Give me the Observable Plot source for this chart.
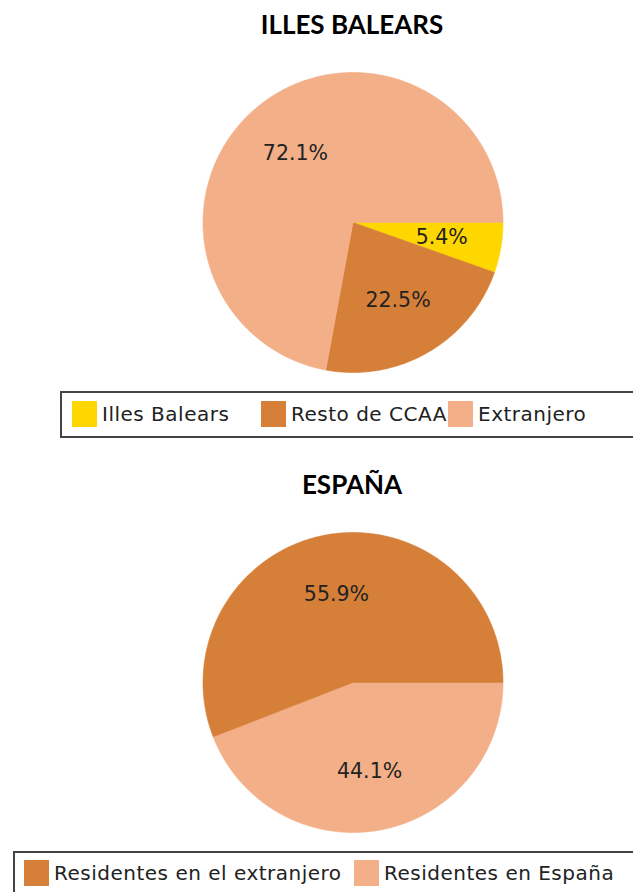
<!DOCTYPE html>
<html>
<head>
<meta charset="utf-8">
<script src="https://cdn.jsdelivr.net/npm/d3@7"></script>
<script src="https://cdn.jsdelivr.net/npm/@observablehq/plot@0.6"></script>
<style>
  html, body { margin: 0; padding: 0; background: #fff; }
  #root { position: relative; width: 633px; height: 892px; overflow: hidden; }
  .title { position: absolute; left: 0; width: 704px; text-align: center;
           font-family: Lato, "Open Sans", sans-serif; font-weight: bold; font-size: 26px; color: #000; }
  .pie { position: absolute; left: 0; }
  .legend { position: absolute; border: 2px solid #444; background: #fff; box-sizing: border-box; }
  .item { position: absolute; display: flex; align-items: center; white-space: nowrap;
          font-family: "DejaVu Sans", sans-serif; font-size: 20px; letter-spacing: 0.5px; color: #222; }
  .sw { width: 25px; height: 26px; margin-right: 5px; flex: none; }
</style>
</head>
<body>
<div id="root"></div>
<script>
// ---- Data ----
const titles = ["ILLES BALEARS", "ESPAÑA"];

const balearsCategories = ["Illes Balears", "Resto de CCAA", "Extranjero"];
const balearsValues = [5.4, 22.5, 72.1];
const balearsColors = ["#FFD700", "#D67F39", "#F3AF88"];
const balearsLabels = ["5.4%", "22.5%", "72.1%"];
const balearsClockwiseOrder = ["Illes Balears", "Resto de CCAA", "Extranjero"];

const espanaCategories = ["Residentes en el extranjero", "Residentes en España"];
const espanaValues = [55.9, 44.1];
const espanaColors = ["#D67F39", "#F3AF88"];
const espanaLabels = ["55.9%", "44.1%"];
const espanaClockwiseOrder = ["Residentes en España", "Residentes en el extranjero"];

// ---- Helpers ----
function pieGeometry(categories, values, labels, order) {
  const total = d3.sum(values);
  const polys = [], texts = [];
  let acc = 0;
  for (const name of order) {
    const i = categories.indexOf(name);
    const frac = values[i] / total;
    const a0 = -2 * Math.PI * acc;
    const a1 = -2 * Math.PI * (acc + frac);
    const n = Math.max(4, Math.ceil(Math.abs(a1 - a0) / 0.01));
    polys.push({name, x: 0, y: 0});
    for (let k = 0; k <= n; k++) {
      const a = a0 + (a1 - a0) * k / n;
      polys.push({name, x: Math.cos(a), y: Math.sin(a)});
    }
    polys.push({name, x: 0, y: 0});
    const am = (a0 + a1) / 2;
    texts.push({name, label: labels[i], x: 0.6 * Math.cos(am), y: 0.6 * Math.sin(am)});
    acc += frac;
  }
  return {polys, texts};
}

function drawPie(categories, values, colors, labels, order) {
  const g = pieGeometry(categories, values, labels, order);
  return Plot.plot({
    width: 633,
    height: 310,
    margin: 0,
    style: {background: "transparent"},
    x: {domain: [-1, 1], range: [202.5, 502.5], axis: null},
    y: {domain: [-1, 1], range: [305, 5], axis: null},
    color: {domain: categories, range: colors},
    marks: [
      Plot.line(g.polys, {x: "x", y: "y", z: "name", fill: "name", stroke: "name", strokeWidth: 0.6, curve: "linear"}),
      Plot.text(g.texts, {x: "x", y: "y", text: "label", fill: "#222", fontSize: 20.5,
        fontFamily: "DejaVu Sans, sans-serif", textAnchor: "middle"})
    ]
  });
}

function addTitle(root, text, top) {
  const d = document.createElement("div");
  d.className = "title";
  d.style.top = top + "px";
  d.textContent = text;
  root.appendChild(d);
}

function addLegend(root, categories, colors, box, itemX) {
  const lg = document.createElement("div");
  lg.className = "legend";
  Object.assign(lg.style, {left: box.left + "px", top: box.top + "px", width: box.width + "px", height: box.height + "px"});
  categories.forEach((c, i) => {
    const it = document.createElement("div");
    it.className = "item";
    it.style.left = (itemX[i] - box.left - 2) + "px";
    it.style.top = (box.swTop - box.top - 2) + "px";
    const sw = document.createElement("div");
    sw.className = "sw";
    sw.style.background = colors[i];
    const tx = document.createElement("span");
    tx.textContent = c;
    it.appendChild(sw); it.appendChild(tx);
    lg.appendChild(it);
  });
  root.appendChild(lg);
}

// ---- Layout ----
const root = document.getElementById("root");

addTitle(root, titles[0], 8);
const p1 = drawPie(balearsCategories, balearsValues, balearsColors, balearsLabels, balearsClockwiseOrder);
p1.classList.add("pie"); p1.style.top = "67px";
root.appendChild(p1);
addLegend(root, balearsCategories, balearsColors,
  {left: 60, top: 391, width: 600, height: 47, swTop: 401}, [72, 261, 448]);

addTitle(root, titles[1], 468);
const p2 = drawPie(espanaCategories, espanaValues, espanaColors, espanaLabels, espanaClockwiseOrder);
p2.classList.add("pie"); p2.style.top = "527px";
root.appendChild(p2);
addLegend(root, espanaCategories, espanaColors,
  {left: 13, top: 851, width: 640, height: 60, swTop: 860}, [24, 354]);
</script>
</body>
</html>
